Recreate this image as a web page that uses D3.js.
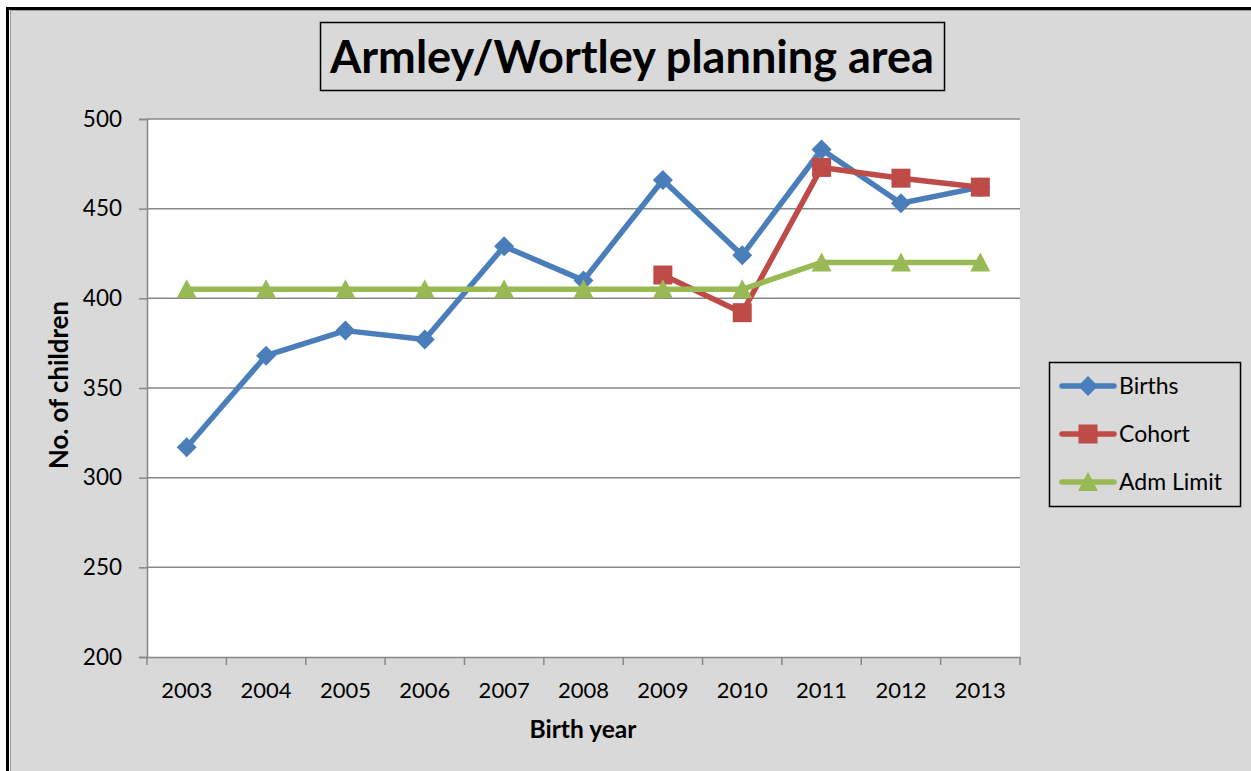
<!DOCTYPE html>
<html><head><meta charset="utf-8">
<script src="https://cdn.jsdelivr.net/npm/d3@7"></script>
<style>
html,body{margin:0;padding:0;background:#fff;overflow:hidden}
</style></head>
<body><svg id="c" width="1251" height="771" font-family="Lato, 'Open Sans', sans-serif"></svg>
<script>
const years = ["2003","2004","2005","2006","2007","2008","2009","2010","2011","2012","2013"];
const births = [317,368,382,377,429,410,466,424,483,453,462];
const cohort = [null,null,null,null,null,null,413,392,473,467,462];
const admLimit = [405,405,405,405,405,405,405,405,420,420,420];
const yTicks = [200,250,300,350,400,450,500];
const seriesNames = ["Births","Cohort","Adm Limit"];
const seriesColors = ["#4a7ebb","#be4b48","#98b954"];

const svg = d3.select("#c");
function fit(sel, w){ const l = sel.node().getComputedTextLength(); const fs = parseFloat(sel.attr("font-size")); sel.attr("font-size", fs*w/l); }

// outer frame
svg.append("rect").attr("x",10).attr("y",10).attr("width",1260).attr("height",780).attr("fill","#d9d9d9");
svg.append("path").attr("d","M7.5,800 V8.5 H1260").attr("fill","none").attr("stroke","#000").attr("stroke-width",3);
svg.append("path").attr("d","M10.5,800 V10.5 H1260").attr("fill","none").attr("stroke","#9a9a9a").attr("stroke-width",1);

const L=147,R=1020,T=119,B=657;
const x = d3.scaleBand().domain(years).range([L,R]);
const y = d3.scaleLinear().domain([200,500]).range([B,T]);

svg.append("rect").attr("x",L).attr("y",T).attr("width",R-L).attr("height",B-T).attr("fill","#fff");

// gridlines
svg.append("g").selectAll("line").data(yTicks.filter(v=>v>200)).join("line")
  .attr("x1",L).attr("x2",R).attr("y1",d=>y(d)).attr("y2",d=>y(d))
  .attr("stroke","#878787").attr("stroke-width",1.5);

// y axis
const ya = svg.append("g").attr("transform",`translate(${L},0)`)
  .call(d3.axisLeft(y).tickValues(yTicks).tickSize(8).tickPadding(17));
ya.attr("font-family",null).attr("font-size",null);
ya.select(".domain").attr("stroke","#878787").attr("stroke-width",1.5);
ya.selectAll(".tick line").attr("stroke","#878787").attr("stroke-width",1.5);
ya.selectAll("text").style("font-family","Lato,sans-serif").style("font-size","22.5px").attr("fill","#000");

// x axis
const xa = svg.append("g").attr("transform",`translate(0,${B})`)
  .call(d3.axisBottom(x).tickSize(0).tickPadding(25));
xa.attr("font-family",null).attr("font-size",null);
xa.select(".domain").attr("stroke","#878787").attr("stroke-width",1.5);
xa.selectAll("text").style("font-family","Lato,sans-serif").style("font-size","22px").attr("fill","#000");
const bounds = years.map(v=>x(v)).concat([R]);
svg.append("g").selectAll("line").data(bounds).join("line")
  .attr("x1",d=>d).attr("x2",d=>d).attr("y1",B).attr("y2",B+8)
  .attr("stroke","#878787").attr("stroke-width",1.5);

// axis titles
const xt = svg.append("text").attr("x",583).attr("y",738).attr("text-anchor","middle")
  .attr("font-weight","bold").attr("font-size",22).text("Birth year");
fit(xt,107);
const yt = svg.append("text").attr("transform","translate(68,385) rotate(-90)").attr("text-anchor","middle")
  .attr("font-weight","bold").attr("font-size",22).text("No. of children");
fit(yt,168);

// title
svg.append("rect").attr("x",320.5).attr("y",22.5).attr("width",624).attr("height",68)
  .attr("fill","#d9d9d9").attr("stroke","#000").attr("stroke-width",1.5);
const tt = svg.append("text").attr("x",632).attr("y",73).attr("text-anchor","middle")
  .attr("font-weight","bold").attr("font-size",40).text("Armley/Wortley planning area");
fit(tt,604);

const cx = d=>x(d)+x.bandwidth()/2;
const shapes = [
  g=>g.append("path").attr("d",d3.symbol().type(d3.symbolSquare).size(200)()).attr("transform","rotate(45)"),
  g=>g.append("path").attr("d",d3.symbol().type(d3.symbolSquare).size(361)()),
  g=>g.append("path").attr("d","M0,-10L10,9L-10,9Z")
];
const data = [births,cohort,admLimit];
const line = d3.line().defined(d=>d.v!=null).x(d=>cx(d.k)).y(d=>y(d.v));
data.forEach((arr,i)=>{
  const pts = years.map((k,j)=>({k,v:arr[j]}));
  svg.append("path").datum(pts).attr("d",line).attr("fill","none")
    .attr("stroke",seriesColors[i]).attr("stroke-width",5.5).attr("stroke-linejoin","round");
  const g = svg.append("g").attr("fill",seriesColors[i]);
  pts.filter(d=>d.v!=null).forEach(d=>{
    const m = g.append("g").attr("transform",`translate(${cx(d.k)},${y(d.v)})`);
    shapes[i](m);
  });
});

// legend
svg.append("rect").attr("x",1049.5).attr("y",362.5).attr("width",191).attr("height",144)
  .attr("fill","#d9d9d9").attr("stroke","#000").attr("stroke-width",1.5);
seriesNames.forEach((n,i)=>{
  const ly = 386+i*48;
  svg.append("line").attr("x1",1062).attr("x2",1114).attr("y1",ly).attr("y2",ly)
    .attr("stroke",seriesColors[i]).attr("stroke-width",5.5).attr("stroke-linecap","round");
  const m = svg.append("g").attr("fill",seriesColors[i]).attr("transform",`translate(1088,${ly})`);
  shapes[i](m);
  svg.append("text").attr("x",1119).attr("y",ly+8).attr("font-size",23).text(n);
});
</script></body></html>
